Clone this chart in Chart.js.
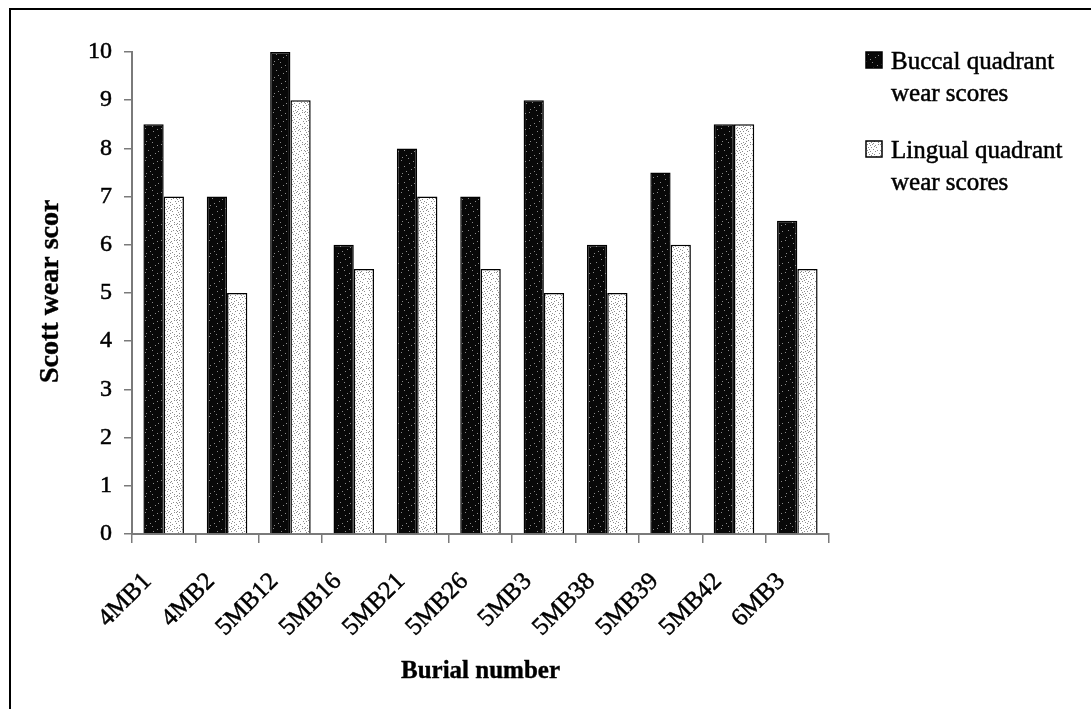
<!DOCTYPE html>
<html>
<head>
<meta charset="utf-8">
<script src="https://cdn.jsdelivr.net/npm/chart.js@4.4.1/dist/chart.umd.min.js"></script>
<style>
  html, body { margin: 0; padding: 0; background: #fff; }
  canvas { display: block; }
</style>
</head>
<body>
<canvas id="chart" width="1091" height="709"></canvas>
<script>
// Burial numbers and Scott wear scores per quadrant
const categories = ['4MB1', '4MB2', '5MB12', '5MB16', '5MB21', '5MB26', '5MB3', '5MB38', '5MB39', '5MB42', '6MB3'];
const buccalScores = [8.5, 7, 10, 6, 8, 7, 9, 6, 7.5, 8.5, 6.5];
const lingualScores = [7, 5, 9, 5.5, 7, 5.5, 5, 5, 6, 8.5, 5.5];
const seriesNames = ['Buccal quadrant wear scores', 'Lingual quadrant wear scores'];
const legendLines = [['Buccal quadrant', 'wear scores'], ['Lingual quadrant', 'wear scores']];
const xTitle = 'Burial number';
const yTitle = 'Scott wear scor';

const SERIF = '"Liberation Serif", "Times New Roman", serif';

// Stippled fills built from small fixed tiles
function makeTile(base, dot, dots, size) {
  const c = document.createElement('canvas');
  c.width = size; c.height = size;
  const g = c.getContext('2d');
  g.fillStyle = base;
  g.fillRect(0, 0, size, size);
  g.fillStyle = dot;
  dots.forEach(([x, y]) => g.fillRect(x, y, 1, 1));
  return g.createPattern(c, 'repeat');
}
const ctx = document.getElementById('chart').getContext('2d');
const darkDots = [[1,0],[9,3],[4,6],[11,9],[6,11],[2,13],[13,1],[8,14],[14,7]];
const lightDots = [[0,0],[3,0],[6,1],[1,2],[4,3],[7,3],[2,4],[5,5],[0,6],[3,6],[6,7],[1,7],
                   [8,0],[10,2],[9,5],[11,7],[8,9],[10,10],[2,9],[5,10],[0,11],[7,11],[4,8],[11,1],
                   [12,3],[14,0],[13,6],[15,9],[12,12],[14,14],[3,13],[7,14],[10,13],[1,15],[5,15],[9,15]];
const darkFill = makeTile('#080808', '#8a8a8a', darkDots, 16);
const lightFill = makeTile('#ffffff', '#8c8c8c', lightDots, 16);

const framePlugin = {
  id: 'frame',
  beforeDraw(chart) {
    const g = chart.ctx;
    g.save();
    g.fillStyle = '#fff';
    g.fillRect(0, 0, chart.width, chart.height);
    g.strokeStyle = '#000';
    g.lineWidth = 2;
    g.beginPath();
    g.moveTo(10, chart.height + 2);
    g.lineTo(10, 9);
    g.lineTo(chart.width + 2, 9);
    g.stroke();
    g.restore();
  }
};

function strokedText(g, text, x, y, w) {
  g.lineWidth = w;
  g.strokeStyle = '#000';
  g.strokeText(text, x, y);
  g.fillText(text, x, y);
}

const titlesAndLegend = {
  id: 'titlesAndLegend',
  afterDraw(chart) {
    const g = chart.ctx;
    const area = chart.chartArea;
    g.save();
    g.fillStyle = '#000';
    g.textBaseline = 'alphabetic';
    // axis titles
    g.font = 'bold 25px ' + SERIF;
    g.textAlign = 'center';
    strokedText(g, xTitle, (area.left + area.right) / 2, 678, 0.4);
    g.save();
    g.font = 'bold 28px ' + SERIF;
    g.translate(58, 383);
    g.rotate(-Math.PI / 2);
    g.textAlign = 'left';
    strokedText(g, yTitle, 0, 0, 0.4);
    g.restore();
    // legend
    const fills = [darkFill, lightFill];
    const itemTops = [52, 141];
    g.font = '25px ' + SERIF;
    g.textAlign = 'left';
    legendLines.forEach((lines, i) => {
      const top = itemTops[i];
      g.fillStyle = fills[i];
      g.fillRect(866, top, 16, 16);
      g.strokeStyle = '#000';
      g.lineWidth = 1.5;
      g.strokeRect(866, top, 16, 16);
      g.fillStyle = '#000';
      lines.forEach((t, j) => strokedText(g, t, 891, top + 17 + j * 32, 0.5));
    });
    g.restore();
  }
};

new Chart(ctx, {
  type: 'bar',
  data: {
    labels: categories,
    datasets: [
      { label: seriesNames[0], data: buccalScores, backgroundColor: darkFill, borderColor: '#000', borderWidth: 1.5 },
      { label: seriesNames[1], data: lingualScores, backgroundColor: lightFill, borderColor: '#000', borderWidth: 1.5 }
    ]
  },
  options: {
    responsive: false,
    animation: false,
    devicePixelRatio: 1,
    layout: { padding: { left: 0, top: 52, right: 262, bottom: 0 } },
    datasets: { bar: { categoryPercentage: 0.64, barPercentage: 1.0 } },
    plugins: { legend: { display: false }, tooltip: { enabled: false } },
    scales: {
      x: {
        grid: { drawOnChartArea: false, drawTicks: true, tickLength: 9, color: '#7a7a7a', lineWidth: 1.5, offset: true },
        border: { color: '#7a7a7a', width: 2 },
        ticks: {
          color: '#000', font: { family: SERIF, size: 25 }, maxRotation: 45, minRotation: 45,
          padding: 24, labelOffset: -16, autoSkip: false, textStrokeColor: '#000', textStrokeWidth: 0.5
        },
        afterFit(s) { s.height = 709 - 534; }
      },
      y: {
        min: 0, max: 10,
        grid: { drawOnChartArea: false, drawTicks: true, tickLength: 8, color: '#7a7a7a', lineWidth: 1.5 },
        border: { color: '#7a7a7a', width: 2 },
        ticks: {
          stepSize: 1, color: '#000', font: { family: SERIF, size: 24 }, padding: 12,
          textStrokeColor: '#000', textStrokeWidth: 0.5
        },
        afterFit(s) { s.width = 132; }
      }
    }
  },
  plugins: [framePlugin, titlesAndLegend]
});
</script>
</body>
</html>
